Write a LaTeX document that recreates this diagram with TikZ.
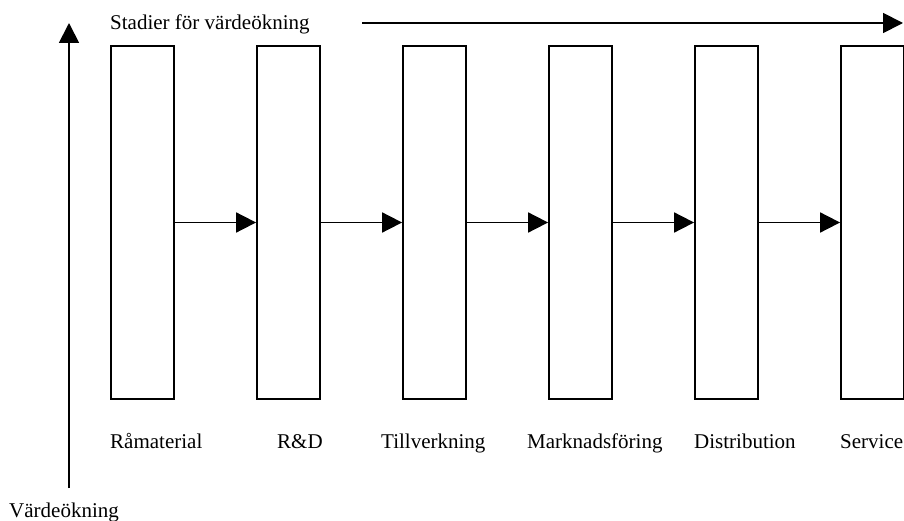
\documentclass[tikz,border=0pt]{standalone}
\usepackage{fontspec}
\setmainfont{Liberation Serif}
\usetikzlibrary{arrows.meta,positioning}
\tikzset{
  stage/.style={draw, rectangle, minimum width=63pt, minimum height=353pt, inner sep=0pt, line width=1.8pt},
  lbl/.style={anchor=base west, inner sep=0pt, font=\fontsize{21}{25}\selectfont},
  arr/.style={-{Triangle[length=20pt, width=20pt]}, line width=1.8pt},
}
\begin{document}
\begin{tikzpicture}[x=1pt, y=-1pt]
\useasboundingbox (0,0) rectangle (904,521);

% value stages
\node[stage] (raw)  at (142.5,222.5) {};
\node[stage] (rnd)  at (288.5,222.5) {};
\node[stage] (prod) at (434.5,222.5) {};
\node[stage] (mkt)  at (580.5,222.5) {};
\node[stage] (dist) at (726.5,222.5) {};
\node[stage] (serv) at (872.5,222.5) {};

\node[lbl] (rawlbl)  at (110,448) {Råmaterial};
\node[lbl] (rndlbl)  at (277,448) {R\&D};
\node[lbl] (prodlbl) at (381,448) {Tillverkning};
\node[lbl] (mktlbl)  at (527,448) {Marknadsföring};
\node[lbl] (distlbl) at (694,448) {Distribution};
\node[lbl] (servlbl) at (840,448) {Service};

\draw[arr] (raw.east)  -- (rnd.west);
\draw[arr] (rnd.east)  -- (prod.west);
\draw[arr] (prod.east) -- (mkt.west);
\draw[arr] (mkt.east)  -- (dist.west);
\draw[arr] (dist.east) -- (serv.west);

% axes
\coordinate (ybot) at (69,488);
\coordinate (ytop) at (69,23);
\coordinate (xleft) at (362,23);
\coordinate (xright) at (903,23);
\draw[arr] (ybot) -- (ytop);
\draw[arr] (xleft) -- (xright);

\node[lbl] (xlbl) at (110,30) {Stadier för värdeökning};
\node[lbl] (ylbl) at (9,517) {Värdeökning};

\end{tikzpicture}
\end{document}
